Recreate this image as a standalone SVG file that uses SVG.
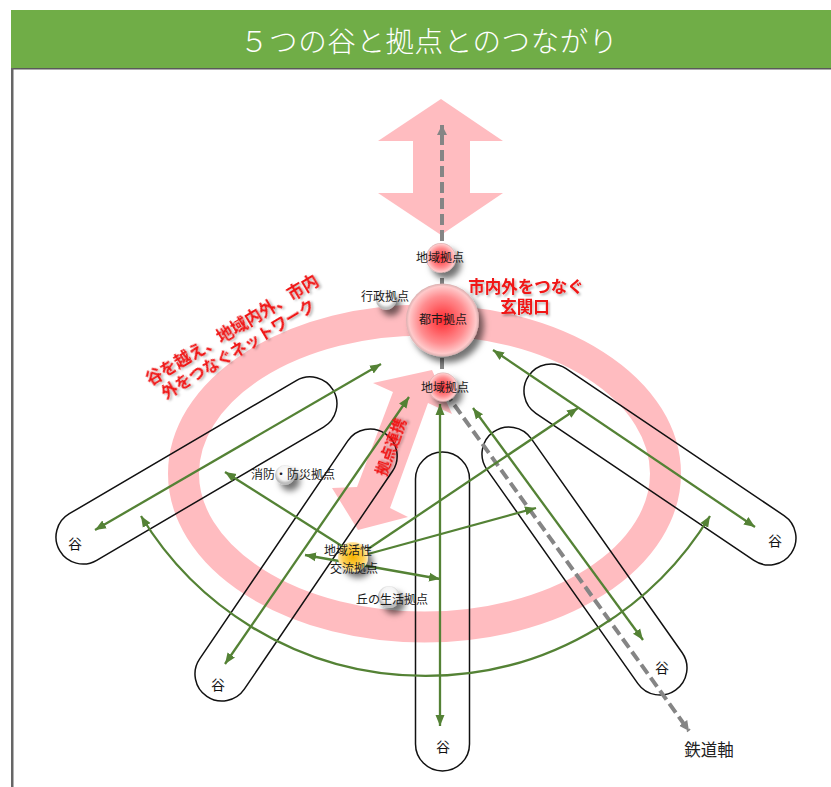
<svg xmlns="http://www.w3.org/2000/svg" width="831" height="787" viewBox="0 0 831 787">
<style>
text{font-family:"Noto Sans CJK JP","Noto Sans",sans-serif;text-anchor:middle}
.lbl{font-size:12px;fill:#1a1a1a}
.val{font-size:14px;fill:#111}
.red{font-size:16.5px;font-weight:700;fill:#f01414}
.tight{font-family:"Liberation Sans","Noto Sans CJK JP",sans-serif}
.cap{fill:none;stroke:#111;stroke-width:1.5}
.gr{fill:none;stroke:#548235;stroke-width:2.3}
.ds{fill:none;stroke:#858585;stroke-width:4;stroke-dasharray:11 5}
.pink{fill:#ffbcc0}
</style>
<defs>
<marker id="ga" markerUnits="userSpaceOnUse" markerWidth="12" markerHeight="10" refX="11" refY="5" orient="auto-start-reverse"><path d="M0,0.5L11,5L0,9.5z" fill="#548235"/></marker>
<marker id="gy" markerUnits="userSpaceOnUse" markerWidth="11" markerHeight="11" refX="10" refY="5.5" orient="auto"><path d="M0,0.5L10,5.5L0,10.5z" fill="#858585"/></marker>
<radialGradient id="rs"><stop offset="0" stop-color="#ff2a2f"/><stop offset=".65" stop-color="#ff8d90"/><stop offset=".92" stop-color="#ffc9ca"/><stop offset="1" stop-color="#d9b0b0"/></radialGradient>
<radialGradient id="ws" cx=".5" cy=".4"><stop offset="0" stop-color="#fff"/><stop offset=".7" stop-color="#f4f4f4"/><stop offset="1" stop-color="#bdbdbd"/></radialGradient>
<radialGradient id="ys"><stop offset="0" stop-color="#f5b400"/><stop offset=".7" stop-color="#ffcf55"/><stop offset="1" stop-color="#ffe7a8"/></radialGradient>
<filter id="sh" x="-50%" y="-50%" width="220%" height="220%"><feDropShadow dx="5" dy="6" stdDeviation="3" flood-color="#000" flood-opacity=".55"/></filter>
<filter id="ts" x="-10%" y="-30%" width="120%" height="170%"><feDropShadow dx="1.5" dy="2" stdDeviation="1.2" flood-color="#000" flood-opacity=".3"/></filter>
</defs>
<rect width="831" height="787" fill="#fff"/>
<g id="frame">
<rect x="11" y="67" width="820" height="2.5" fill="#595959"/>
<rect x="11" y="67" width="2.5" height="720" fill="#666"/>
<rect x="11" y="10" width="820" height="58" fill="#70ad47"/>
<text x="429" y="52" fill="#fff" style="font-size:28.5px;font-weight:300;letter-spacing:.6px">５つの谷と拠点とのつながり</text>
</g>
<g id="bands">
<ellipse cx="424.5" cy="473.5" rx="241" ry="153.5" fill="none" stroke="#ffbcc0" stroke-width="31"/>
<polygon class="pink" points="441,99 378,141 413,141 413,193 378,193 441,235 503,193 470,193 470,141 503,141"/>
<polygon class="pink" points="432,370 373,383 393,392 357,487 332,488 358,530 408,517 390,508 428,403 452,414"/>
</g>
<g id="valleys">
<g id="valley-1"><rect class="cap" x="-27" y="-27" width="317.1" height="54" rx="27" transform="translate(83 537) rotate(-30.4)"/><text class="val" x="75" y="549">谷</text></g>
<g id="valley-2"><rect class="cap" x="-27" y="-27" width="317.5" height="54" rx="27" transform="translate(222 674) rotate(-55.8)"/><text class="val" x="218" y="690">谷</text></g>
<g id="valley-3"><rect class="cap" x="415.5" y="452" width="54" height="319" rx="27"/><text class="val" x="443" y="752">谷</text></g>
<g id="valley-4"><rect class="cap" x="-27" y="-27" width="315.9" height="54" rx="27" transform="translate(509 454) rotate(54.8)"/><text class="val" x="662" y="673">谷</text></g>
<g id="valley-5"><rect class="cap" x="-27" y="-27" width="316.9" height="54" rx="27" transform="translate(551 391) rotate(34)"/><text class="val" x="775" y="546">谷</text></g>
</g>
<g id="connectors">
<path class="ds" d="M442,385V125" marker-end="url(#gy)"/>
<path class="ds" d="M445,392L689,731" marker-end="url(#gy)"/>
<path class="gr" d="M95,530L381,364" marker-start="url(#ga)" marker-end="url(#ga)"/>
<path class="gr" d="M225,664L409,397" marker-start="url(#ga)" marker-end="url(#ga)"/>
<path class="gr" d="M440,726V404" marker-start="url(#ga)" marker-end="url(#ga)"/>
<path class="gr" d="M643,640L473,408" marker-start="url(#ga)" marker-end="url(#ga)"/>
<path class="gr" d="M755,527L493,350" marker-start="url(#ga)" marker-end="url(#ga)"/>
<path class="gr" d="M141,516A333,333 0 0 0 710,516" marker-start="url(#ga)" marker-end="url(#ga)"/>
<path class="gr" d="M345,548L225,472" marker-end="url(#ga)"/>
<path class="gr" d="M368,549L578,408" marker-end="url(#ga)"/>
<path class="gr" d="M368,554L536,508" marker-end="url(#ga)"/>
<path class="gr" d="M305,555L440,579" marker-start="url(#ga)" marker-end="url(#ga)"/>
</g>
<g id="node-city"><circle cx="442.5" cy="320" r="36.5" fill="url(#rs)" filter="url(#sh)"/><text class="lbl" x="443" y="324">都市拠点</text></g>
<g id="node-area-n"><circle cx="441" cy="258" r="15" fill="url(#rs)" filter="url(#sh)"/><text class="lbl" x="440" y="262">地域拠点</text></g>
<g id="node-area-s"><circle cx="443" cy="387" r="14.5" fill="url(#rs)" filter="url(#sh)"/><text class="lbl" x="445" y="392">地域拠点</text></g>
<g id="node-admin"><circle cx="386" cy="300" r="10" fill="url(#ws)" filter="url(#sh)"/><text class="lbl" x="385" y="301">行政拠点</text></g>
<g id="node-fire"><circle cx="285" cy="475" r="10" fill="url(#ws)" filter="url(#sh)"/><text class="lbl" x="293" y="479">消防・防災拠点</text></g>
<g id="node-hub"><circle cx="353" cy="557" r="15" fill="url(#ys)" filter="url(#sh)"/><text class="lbl" x="348" y="555">地域活性</text><text class="lbl" x="354" y="573">交流拠点</text></g>
<g id="node-hill"><circle cx="389" cy="597" r="11" fill="url(#ws)" filter="url(#sh)"/><text class="lbl" x="392" y="604">丘の生活拠点</text></g>
<g id="labels">
<text class="red tight" filter="url(#ts)"><tspan x="526" y="293">市内外をつなぐ</tspan><tspan x="525" y="313">玄関口</tspan></text>
<text class="red" transform="translate(232 330) rotate(-31)" y="6" filter="url(#ts)">谷を越え、地域内外、市内</text>
<text class="red" transform="translate(238 349) rotate(-31)" y="6" style="font-size:16px" filter="url(#ts)">外をつなぐネットワーク</text>
<text class="red" transform="translate(391 447) rotate(-70)" y="5" style="font-size:15px" filter="url(#ts)">拠点連携</text>
<text x="709" y="756" style="font-size:16.5px" fill="#222">鉄道軸</text>
</g>
</svg>
